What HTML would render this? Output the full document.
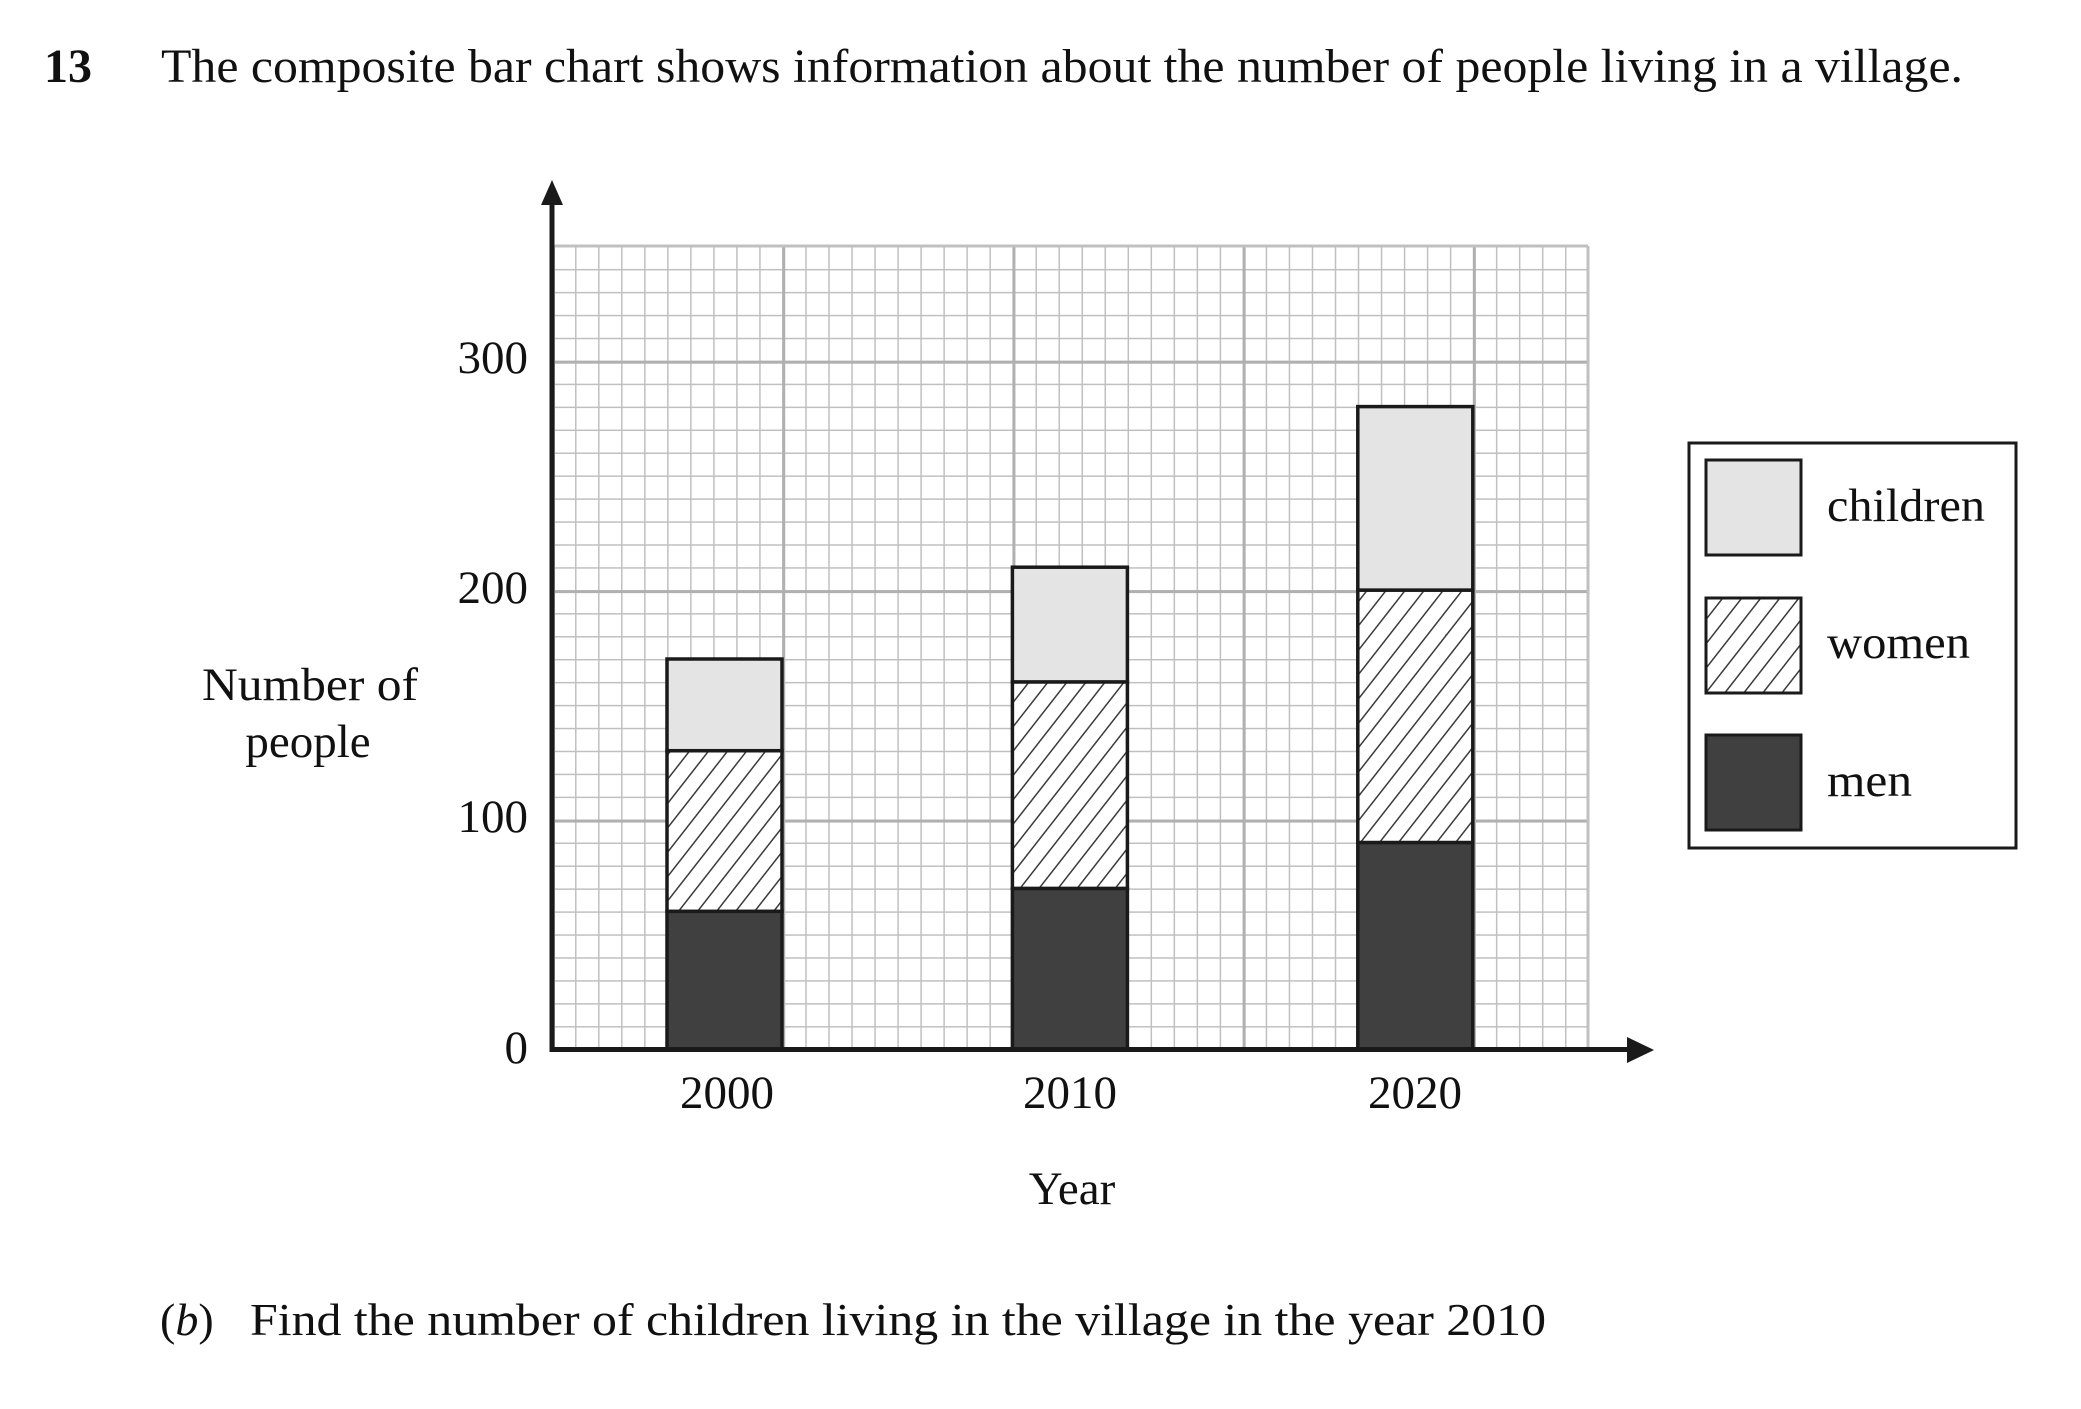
<!DOCTYPE html>
<html><head><meta charset="utf-8"><style>
html,body{margin:0;padding:0;background:#fff;}
svg{display:block;}
text{font-family:"Liberation Serif",serif;fill:#111;}
</style></head><body>
<svg width="2081" height="1409" viewBox="0 0 2081 1409" xmlns="http://www.w3.org/2000/svg">
<defs>
<pattern id="minor" x="552" y="1049" width="23.022" height="22.943" patternUnits="userSpaceOnUse">
<rect x="0" y="0" width="23.022" height="22.943" fill="#fff"/>
<line x1="0" y1="0" x2="23.022" y2="0" stroke="#c0c0c0" stroke-width="3"/>
<line x1="0" y1="0" x2="0" y2="22.943" stroke="#c0c0c0" stroke-width="3"/>
</pattern>
<pattern id="major" x="552" y="1049" width="230.22" height="229.43" patternUnits="userSpaceOnUse">
<line x1="0" y1="0" x2="230.22" y2="0" stroke="#b0b0b0" stroke-width="6"/>
<line x1="0" y1="0" x2="0" y2="229.43" stroke="#b0b0b0" stroke-width="6"/>
</pattern>
<pattern id="hatch" width="15" height="15" patternUnits="userSpaceOnUse" patternTransform="rotate(38)">
<rect width="15" height="15" fill="#fff"/>
<line x1="0" y1="0" x2="0" y2="15" stroke="#3a3a3a" stroke-width="3"/>
</pattern>
</defs>

<text x="44" y="82" font-size="48" font-weight="bold">13</text>
<text x="161" y="82" font-size="48" textLength="1802" lengthAdjust="spacingAndGlyphs">The composite bar chart shows information about the number of people living in a village.</text>

<rect x="552" y="246" width="1036" height="803" fill="url(#minor)"/>
<rect x="552" y="246" width="1036" height="803" fill="url(#major)"/>
<line x1="552" y1="246" x2="1588" y2="246" stroke="#c0c0c0" stroke-width="3"/>
<line x1="1588" y1="246" x2="1588" y2="1049" stroke="#c0c0c0" stroke-width="3"/>

<g stroke="#1a1a1a" stroke-width="3.5">
<rect x="667" y="911.3" width="115" height="137.7" fill="#404040"/>
<rect x="667" y="750.7" width="115" height="160.6" fill="url(#hatch)"/>
<rect x="667" y="659" width="115" height="91.7" fill="#e4e4e4"/>

<rect x="1012.4" y="888.4" width="115" height="160.6" fill="#404040"/>
<rect x="1012.4" y="681.9" width="115" height="206.5" fill="url(#hatch)"/>
<rect x="1012.4" y="567.2" width="115" height="114.7" fill="#e4e4e4"/>

<rect x="1357.8" y="842.5" width="115" height="206.5" fill="#404040"/>
<rect x="1357.8" y="590.1" width="115" height="252.4" fill="url(#hatch)"/>
<rect x="1357.8" y="406.6" width="115" height="183.5" fill="#e4e4e4"/>
</g>

<line x1="552" y1="195" x2="552" y2="1052" stroke="#1a1a1a" stroke-width="5"/>
<polygon points="552,180 541,205 563,205" fill="#1a1a1a"/>
<line x1="549.5" y1="1049.5" x2="1630" y2="1049.5" stroke="#1a1a1a" stroke-width="5"/>
<polygon points="1654,1050 1627,1037 1627,1063" fill="#1a1a1a"/>

<g font-size="47" text-anchor="end">
<text x="528" y="373">300</text>
<text x="528" y="603">200</text>
<text x="528" y="832">100</text>
<text x="528" y="1063">0</text>
</g>
<g font-size="47" text-anchor="middle">
<text x="727" y="1108">2000</text>
<text x="1070" y="1108">2010</text>
<text x="1415" y="1108">2020</text>
<text x="1072" y="1204">Year</text>
<text x="310" y="700" textLength="216" lengthAdjust="spacingAndGlyphs">Number of</text>
<text x="308" y="757">people</text>
</g>

<rect x="1689" y="443" width="327" height="405" fill="#fff" stroke="#1a1a1a" stroke-width="3"/>
<g stroke="#1a1a1a" stroke-width="3">
<rect x="1706" y="460" width="95" height="95" fill="#e4e4e4"/>
<rect x="1706" y="598" width="95" height="95" fill="url(#hatch)"/>
<rect x="1706" y="735" width="95" height="95" fill="#404040"/>
</g>
<g font-size="47">
<text x="1827" y="521" textLength="158" lengthAdjust="spacingAndGlyphs">children</text>
<text x="1827" y="658" textLength="143" lengthAdjust="spacingAndGlyphs">women</text>
<text x="1827" y="796" textLength="85" lengthAdjust="spacingAndGlyphs">men</text>
</g>

<text x="160" y="1335" font-size="46">(<tspan font-style="italic">b</tspan>)</text>
<text x="250" y="1335" font-size="46" textLength="1296" lengthAdjust="spacingAndGlyphs">Find the number of children living in the village in the year 2010</text>
</svg>
</body></html>
